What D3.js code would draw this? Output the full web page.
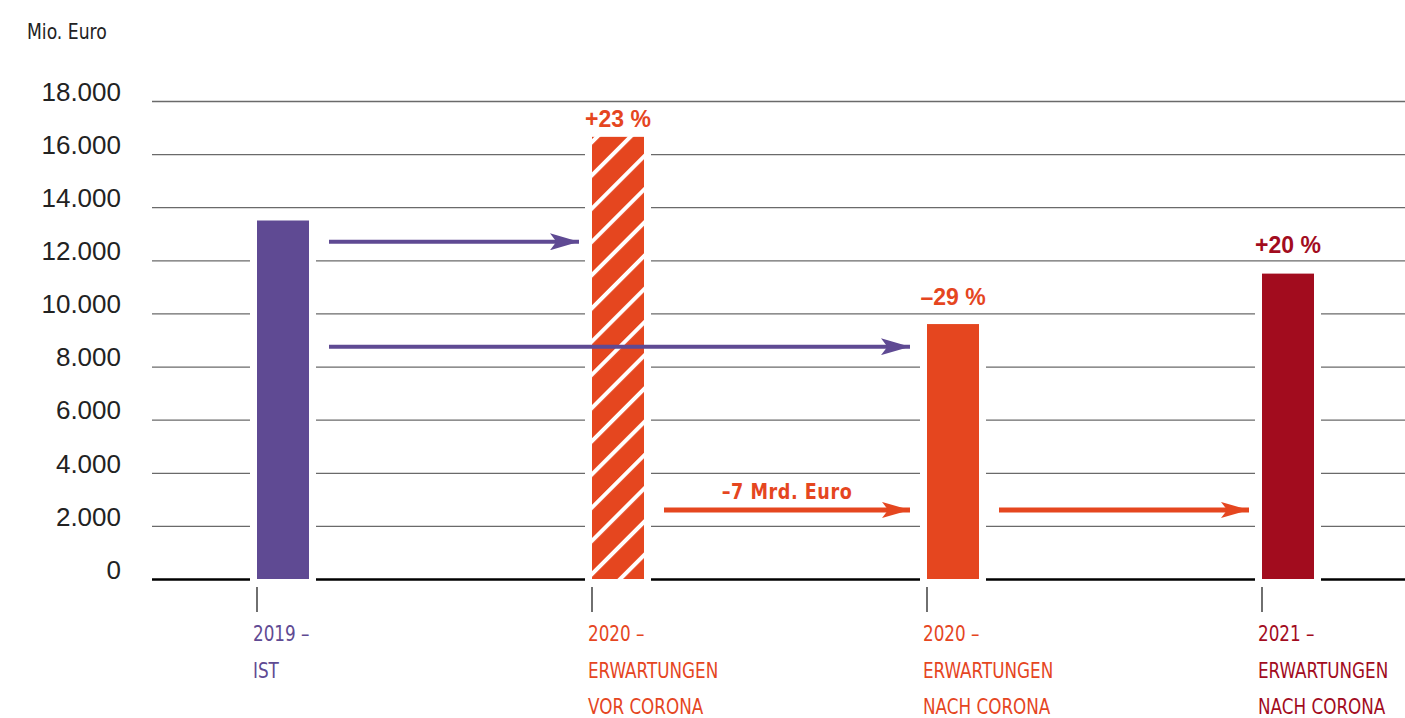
<!DOCTYPE html>
<html>
<head>
<meta charset="utf-8">
<script src="https://cdn.jsdelivr.net/npm/d3@7"></script>
<style>
  body { margin: 0; background: #fff; }
  .narrow { font-family: "Liberation Sans Narrow", "DejaVu Sans Condensed", "Roboto", sans-serif; }
</style>
</head>
<body>
<svg id="chart"></svg>
<script>
// data
const categories = ['2019', '2020v', '2020n', '2021'];
const values = [13500, 16650, 9600, 11500];
const labelLines = [
  ['2019 –', 'IST'],
  ['2020 –', 'ERWARTUNGEN', 'VOR CORONA'],
  ['2020 –', 'ERWARTUNGEN', 'NACH CORONA'],
  ['2021 –', 'ERWARTUNGEN', 'NACH CORONA']
];
const changeLabels = [null, '+23 %', '–29 %', '+20 %'];
const yTicks = [0, 2000, 4000, 6000, 8000, 10000, 12000, 14000, 16000, 18000];
// arrows: from bar -> to bar, at value level
const arrowFrom = ['2019', '2019', '2020v', '2020n'];
const arrowTo = ['2020v', '2020n', '2020n', '2021'];
const arrowLevel = [12700, 8750, 2600, 2600];
const arrowText = ['', '', '–7 Mrd. Euro', ''];

// style
const purple = '#5f4a93', orange = '#e5461f', darkRed = '#a20c1e';
const barColors = [purple, orange, orange, darkRed];
const arrowColors = [purple, purple, orange, orange];
const hatched = [false, true, false, false];
const labelDy = [0, 10, 19, 21];

const width = 1405, height = 718;
const gridLeft = 152, gridRight = 1405;
const barW = 52;
const squeeze = 0.89; // condensed look

const svg = d3.select('#chart')
  .attr('width', width)
  .attr('height', height);

const y = d3.scaleLinear()
  .domain([0, 18000])
  .range([579, 101]);

const x = d3.scalePoint()
  .domain(categories)
  .range([283, 1288]);

const de = d3.formatLocale({decimal: ',', thousands: '.', grouping: [3], currency: ['', ' €']});
const fmt = de.format(',');

// hatch pattern
const defs = svg.append('defs');
const pat = defs.append('pattern')
  .attr('id', 'hatch')
  .attr('patternUnits', 'userSpaceOnUse')
  .attr('width', 23.5)
  .attr('height', 23.5)
  .attr('patternTransform', 'rotate(45)');
pat.append('rect').attr('width', 23.5).attr('height', 23.5).attr('fill', orange);
pat.append('rect').attr('width', 4).attr('height', 23.5).attr('fill', '#fff');

const arrowHead = (id, color, len, half) => {
  defs.append('marker')
    .attr('id', id)
    .attr('markerUnits', 'userSpaceOnUse')
    .attr('viewBox', `0 ${-half} ${len} ${half * 2}`)
    .attr('refX', len)
    .attr('refY', 0)
    .attr('markerWidth', len)
    .attr('markerHeight', half * 2)
    .attr('orient', 'auto')
    .append('path')
    .attr('d', `M0,${-half} L${len},0 L0,${half} L${len * 0.22},0 Z`)
    .attr('fill', color);
};
arrowHead('ah-purple', purple, 29, 8.5);
arrowHead('ah-orange', orange, 28, 8);

// unit label
svg.append('text')
  .attr('class', 'narrow')
  .attr('transform', `translate(27,39) scale(${squeeze - 0.02},1)`)
  .attr('font-size', 22)
  .attr('fill', '#222')
  .text('Mio. Euro');

// gridlines
const grid = svg.append('g')
  .attr('transform', `translate(${gridLeft},0)`)
  .call(d3.axisRight(y).tickValues(yTicks).tickSize(gridRight - gridLeft).tickFormat(''));
grid.select('.domain').remove();
grid.selectAll('.tick line')
  .attr('stroke', d => d === 0 ? '#000' : '#6a6a6a')
  .attr('stroke-width', d => d === 0 ? 2.6 : 1.3);

// y labels
const yAxis = svg.append('g')
  .attr('transform', `translate(121,0)`)
  .call(d3.axisLeft(y).tickValues(yTicks).tickSize(0).tickPadding(0).tickFormat(fmt));
yAxis.select('.domain').remove();
yAxis.selectAll('text')
  .attr('font-family', '"Liberation Sans", Arial, sans-serif')
  .attr('font-size', 26)
  .attr('fill', '#222')
  .attr('dy', '0.32em')
  .attr('transform', 'translate(0,-9)');

// bars with white gap around
const bars = svg.append('g');
bars.selectAll('rect.gap')
  .data(values)
  .join('rect')
  .attr('class', 'gap')
  .attr('x', (d, i) => x(categories[i]) - barW / 2 - 7)
  .attr('y', d => y(d))
  .attr('width', barW + 14)
  .attr('height', d => y(0) - y(d) + 2)
  .attr('fill', '#fff');
bars.selectAll('rect.bar')
  .data(values)
  .join('rect')
  .attr('class', 'bar')
  .attr('x', (d, i) => x(categories[i]) - barW / 2)
  .attr('y', d => y(d))
  .attr('width', barW)
  .attr('height', d => y(0) - y(d))
  .attr('fill', (d, i) => hatched[i] ? 'url(#hatch)' : barColors[i]);

// change labels
svg.append('g').selectAll('text')
  .data(values)
  .join('text')
  .attr('x', (d, i) => x(categories[i]))
  .attr('y', (d, i) => y(d) - labelDy[i])
  .attr('text-anchor', 'middle')
  .attr('font-family', '"Liberation Sans", Arial, sans-serif')
  .attr('font-weight', 'bold')
  .attr('font-size', 23)
  .attr('fill', (d, i) => barColors[i])
  .text((d, i) => changeLabels[i] || '');

// arrows
const arrows = svg.append('g');
arrowLevel.forEach((v, i) => {
  const x1 = x(arrowFrom[i]) + barW / 2 + 20;
  const x2 = x(arrowTo[i]) - barW / 2 - (i === 0 || i === 3 ? 13 : 17);
  arrows.append('line')
    .attr('x1', x1).attr('x2', x2)
    .attr('y1', y(v)).attr('y2', y(v))
    .attr('stroke', arrowColors[i])
    .attr('stroke-width', arrowColors[i] === purple ? 4 : 5)
    .attr('marker-end', `url(#${arrowColors[i] === purple ? 'ah-purple' : 'ah-orange'})`);
  if (arrowText[i]) {
    arrows.append('text')
      .attr('class', 'narrow')
      .attr('transform', `translate(${(x1 + x2) / 2},${y(v) - 11}) scale(${squeeze},1)`)
      .attr('text-anchor', 'middle')
      .attr('font-weight', 'bold')
      .attr('font-size', 22)
      .attr('letter-spacing', 0.6)
      .attr('fill', arrowColors[i])
      .text(arrowText[i]);
  }
});

// category ticks and labels
const cat = svg.append('g').selectAll('g')
  .data(categories)
  .join('g')
  .attr('transform', d => `translate(${x(d) - barW / 2},0)`);
cat.append('line')
  .attr('x1', 0).attr('x2', 0)
  .attr('y1', 587).attr('y2', 612)
  .attr('stroke', '#222')
  .attr('stroke-width', 1.3);
cat.each(function(d, i) {
  d3.select(this).selectAll('text')
    .data(labelLines[i])
    .join('text')
    .attr('class', 'narrow')
    .attr('transform', (t, j) => `translate(-4,${641 + j * 36.5}) scale(${squeeze},1)`)
    .attr('font-size', 21)
    .attr('fill', barColors[i])
    .text(t => t);
});
</script>
</body>
</html>
